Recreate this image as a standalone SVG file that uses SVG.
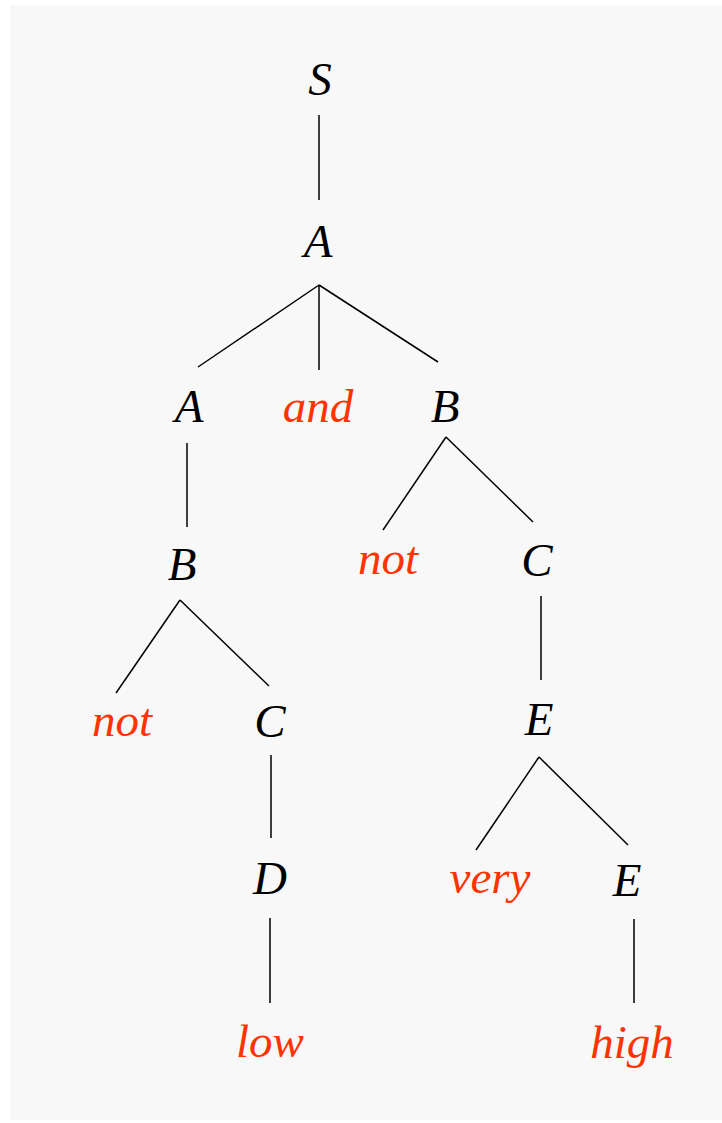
<svg xmlns="http://www.w3.org/2000/svg" width="722" height="1123" viewBox="0 0 722 1123">
<style>
.n{font-family:"Liberation Serif","Times New Roman",serif;font-style:italic;font-size:47px;text-anchor:middle;fill:#000}
.t{fill:#ff3300}
.e line{stroke:#000;stroke-width:1.5}
</style>
<rect x="10" y="5" width="712" height="1115" fill="#f8f8f8"/>
<g class="e" id="connectors">
<line x1="319" y1="115" x2="319" y2="200"/>
<line x1="319" y1="285" x2="198" y2="367"/>
<line x1="319" y1="285" x2="319" y2="370"/>
<line x1="319" y1="285" x2="438" y2="362"/>
<line x1="187" y1="443" x2="187" y2="527"/>
<line x1="180" y1="600" x2="116" y2="693"/>
<line x1="180" y1="600" x2="269" y2="686"/>
<line x1="271" y1="755" x2="271" y2="838"/>
<line x1="270" y1="918" x2="270" y2="1003"/>
<line x1="446" y1="437" x2="383" y2="530"/>
<line x1="446" y1="437" x2="533" y2="522"/>
<line x1="541" y1="596" x2="541" y2="680"/>
<line x1="539" y1="757" x2="476" y2="850"/>
<line x1="539" y1="757" x2="628" y2="845"/>
<line x1="634" y1="919" x2="634" y2="1003"/>
</g>
<g id="S"><text class="n" x="320" y="95">S</text></g>
<g id="A1"><text class="n" x="318" y="257">A</text></g>
<g id="A2"><text class="n" x="189" y="422">A</text></g>
<g id="and"><text class="n t" x="318" y="422">and</text></g>
<g id="B1"><text class="n" x="445" y="422">B</text></g>
<g id="B2"><text class="n" x="182" y="580">B</text></g>
<g id="not1"><text class="n t" x="122" y="736">not</text></g>
<g id="C1"><text class="n" x="270" y="737">C</text></g>
<g id="D"><text class="n" x="270" y="894">D</text></g>
<g id="low"><text class="n t" x="270" y="1057">low</text></g>
<g id="not2"><text class="n t" x="388" y="574">not</text></g>
<g id="C2"><text class="n" x="537" y="576">C</text></g>
<g id="E1"><text class="n" x="539" y="735">E</text></g>
<g id="very"><text class="n t" x="490" y="893">very</text></g>
<g id="E2"><text class="n" x="627" y="896">E</text></g>
<g id="high"><text class="n t" x="632" y="1058">high</text></g>
</svg>
